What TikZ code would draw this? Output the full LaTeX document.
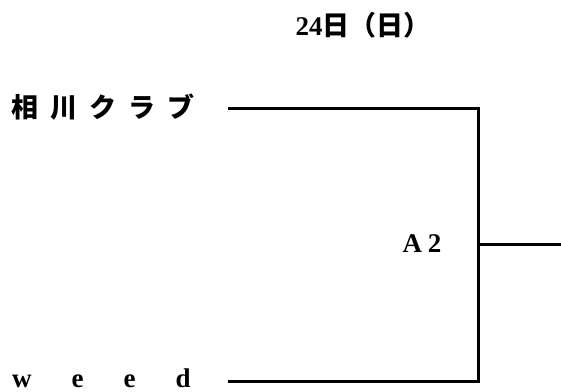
\documentclass[tikz,border=0pt]{standalone}
\usepackage{fontspec}
\setmainfont{Liberation Serif}
\newfontfamily\jp{Noto Sans CJK JP}
\usetikzlibrary{positioning}

\begin{document}
\begin{tikzpicture}[
    x=1pt,y=-1pt,
    lbl/.style={font=\bfseries\fontsize{27}{32}\selectfont,inner sep=0pt},
    team/.style={lbl,anchor=west},
    line/.style={line width=3pt}
]
\useasboundingbox (0,0) rectangle (561,391);
\node[lbl] (day) at (363,25) {24{\jp 日（日）}};
\node[team] (teamA) at (11,107) {\jp 相\hspace{12pt}川\hspace{12pt}ク\hspace{12pt}ラ\hspace{12pt}ブ};
\node[team,anchor=base west,text depth=0pt] (teamB) at (12,387) {w\hspace{40pt}e\hspace{40pt}e\hspace{40pt}d};
\node[lbl] (match) at (422,244) {A\hspace{6pt}2};
\coordinate (topL) at (228,108);
\coordinate (topR) at (478,108);
\coordinate (botL) at (228,381);
\coordinate (botR) at (478,381);
\coordinate (win) at (561,244);
\draw[line] (topL) -- (topR) -- (botR) -- (botL);
\draw[line] (topR |- win) -- (win);
\end{tikzpicture}
\end{document}
